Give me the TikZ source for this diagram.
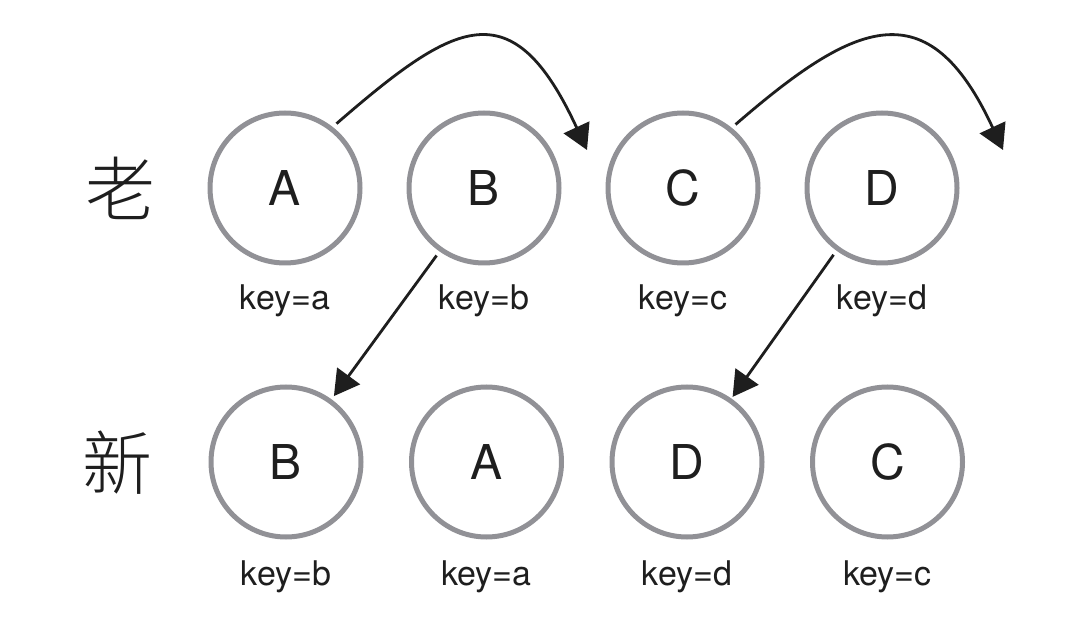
\documentclass[tikz,border=0pt]{standalone}
\usepackage{fontspec}
\setmainfont{TeX Gyre Heros}
\newfontfamily\cjk{Noto Sans CJK SC Light}
\usetikzlibrary{arrows.meta}
\definecolor{ringgray}{RGB}{145,145,150}
\definecolor{ink}{RGB}{30,30,30}

\begin{document}
\begin{tikzpicture}[x=.5pt,y=-.5pt,
    ring/.style={circle,draw=ringgray,line width=2.5pt,minimum size=75pt,inner sep=0pt,
      text=ink,font=\fontsize{24}{24}\selectfont},
    keytext/.style={anchor=base,text=ink,font=\fontsize{17}{17}\selectfont},
    rowname/.style={text=ink,font=\cjk\fontsize{35}{35}\selectfont},
    move/.style={-{Triangle[length=12.5pt,width=14pt]},line width=1.4pt,draw=ink}]
  \useasboundingbox (0,0) rectangle (1088,636);
  \node[rowname] (old) at (120,188) {老};
  \node[rowname] (new) at (118,463) {新};
  \foreach \l/\k [count=\i] in {A/a,B/b,C/c,D/d}{
    \node[ring] (o\l) at ({285+199*(\i-1)},188) {\l};
    \node[keytext] (ko\l) at ({285+199*(\i-1)},310) {key=\k};}
  \foreach \l/\k [count=\i] in {B/b,A/a,D/d,C/c}{
    \node[ring] (n\l) at ({286+200.5*(\i-1)},462) {\l};
    \node[keytext] (kn\l) at ({286+200.5*(\i-1)},585) {key=\k};}
  \coordinate (afterB) at (587,150);
  \coordinate (afterD) at (1003,150);
  \draw[move,shorten <=2.5pt] (oA.52) .. controls (455,21) and (512,-12) .. (afterB);
  \draw[move,shorten <=2.5pt] (oC.51) .. controls (855,21) and (928,-12) .. (afterD);
  \draw[move,shorten <=2.5pt,shorten >=2pt] (oB.235) -- (nB.54);
  \draw[move,shorten <=2.5pt,shorten >=1pt] (oD.234) -- (nD.55);
\end{tikzpicture}
\end{document}
